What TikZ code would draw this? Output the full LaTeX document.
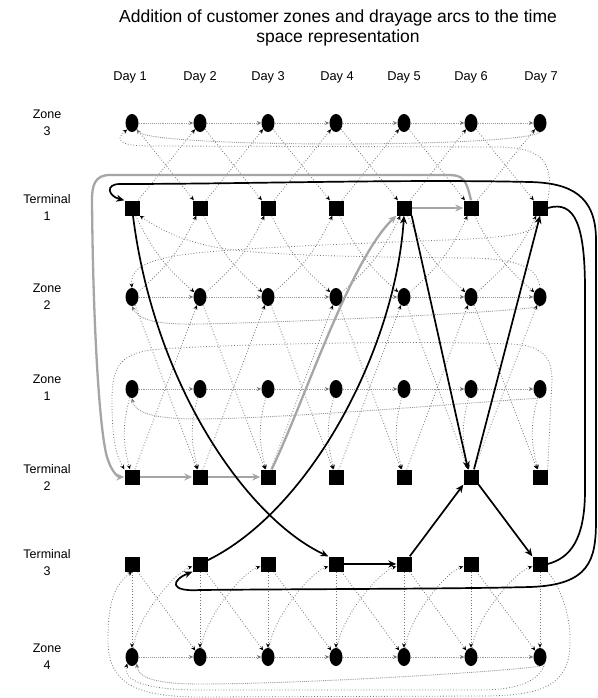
\documentclass[tikz,border=0pt]{standalone}
\usepackage{fontspec}
\setmainfont{Liberation Sans}
\usetikzlibrary{arrows.meta,shapes.geometric,backgrounds}

\begin{document}
\begin{tikzpicture}[x=1pt,y=-1pt,
  zone/.style={ellipse, fill=black, minimum width=13pt, minimum height=18pt, inner sep=0pt},
  term/.style={rectangle, fill=black, minimum size=15pt, inner sep=0pt},
  rowlbl/.style={font=\fontsize{12.5}{17}\selectfont, align=center},
  daylbl/.style={font=\fontsize{12.8}{15}\selectfont},
  darc/.style={draw=black!55, dotted, line width=0.8pt, -{Stealth[length=4.5pt,width=4pt,black]}},
  warc/.style={draw=black!40, densely dotted, line width=0.9pt, -{Stealth[length=4.5pt,width=4pt,black!55]}},
  blk/.style={draw=black, line width=1.7pt, -{Stealth[length=8pt,width=7pt]}},
  gry/.style={draw=black!35, line width=2.3pt, -{Stealth[length=8pt,width=7pt]}}]

\useasboundingbox (0,0) rectangle (597,698);

% title and labels
\node[font=\fontsize{17.5}{19.5}\selectfont, align=center] (title) at (338,28)
  {Addition of customer zones and drayage arcs to the time\\space representation};
\foreach \x [count=\i] in {130,200,268,337,404,471,541}
  \node[daylbl] (day\i) at (\x,77) {Day \i};
\node[rowlbl] (lz3) at (47,123) {Zone\\3};
\node[rowlbl] (lt1) at (47,207) {Terminal\\1};
\node[rowlbl] (lz2) at (47,297) {Zone\\2};
\node[rowlbl] (lz1) at (47,388) {Zone\\1};
\node[rowlbl] (lt2) at (47,477) {Terminal\\2};
\node[rowlbl] (lt3) at (47,563) {Terminal\\3};
\node[rowlbl] (lz4) at (47,657) {Zone\\4};

% customer zones and terminals, one node per day
\foreach \r/\y in {z3/123,z2/297,z1/389,z4/657}
  \foreach \x [count=\i] in {132,200,268,336,404,471,540}
    \node[zone] (\r-\i) at (\x,\y) {};
\foreach \r/\y in {t1/208,t2/477,t3/564}
  \foreach \x [count=\i] in {132,200,268,336,404,471,540}
    \node[term] (\r-\i) at (\x,\y) {};

\begin{scope}[on background layer]
\fill[white] (0,0) rectangle (597,698);

% waiting arcs inside each zone
\foreach \r in {z3,z2,z1,z4}
  \foreach \i in {1,...,6} {
    \pgfmathtruncatemacro\j{\i+1}
    \draw[warc] (\r-\i) -- (\r-\j);
  }

% drayage arcs between consecutive days
\foreach \i in {1,...,6} {
  \pgfmathtruncatemacro\j{\i+1}
  \draw[darc] (z3-\i) -- (t1-\j);
  \draw[darc] (t1-\i) -- (z3-\j);
  \draw[darc] (t1-\i) to[bend right=12] (z2-\j);
  \draw[darc] (z2-\i) to[bend right=12] (t1-\j);
  \draw[darc] (z2-\i) -- (t2-\j);
  \draw[darc] (t2-\i) -- (z2-\j);
  \draw[darc] (t3-\i) -- (z4-\j);
  \draw[darc] (z4-\i) .. controls +(5,-40) and +(-25,8) .. (t3-\j);
}
\foreach \i in {1,...,7} {
  \draw[darc] (z1-\i) to[bend right=15] (t2-\i);
  \draw[darc] (t3-\i) -- (z4-\i);
}

% wrap-around waiting arcs (day 7 back to day 1)
\draw[warc] (z3-7.south) .. controls (520,148) and (150,148) .. (z3-1.south east);
\draw[warc] (z2-7.south) .. controls (520,312) and (300,322) .. (200,324)
  .. controls (150,325) and (138,318) .. (z2-1.south);
\draw[warc] (z1-7.south) .. controls (500,400) and (300,418) .. (200,419)
  .. controls (150,419) and (135,412) .. (z1-1.south);
\draw[warc] (z4-7.south) .. controls (500,672) and (300,684) .. (200,684)
  .. controls (150,684) and (138,676) .. (z4-1.south east);

% wrap-around drayage arcs
\draw[darc] (t1-7.north east) .. controls (555,160) and (540,148) .. (500,147)
  -- (150,146) .. controls (120,146) and (114,140) .. (z3-1.south west);
\draw[darc] (z2-7.north) .. controls (538,268) and (520,259) .. (470,258)
  .. controls (350,257) and (260,255) .. (220,248)
  .. controls (185,242) and (160,230) .. (t1-1.south east);
\draw[darc] (t1-7.south) .. controls (540,232) and (520,236) .. (470,239)
  .. controls (350,244) and (220,248) .. (175,256)
  .. controls (140,262) and (130,272) .. (z2-1.north);
\draw[darc] (t2-7.north east) -- (552,380) .. controls (552,355) and (540,345) .. (510,344)
  .. controls (400,340) and (200,345) .. (150,350)
  .. controls (118,355) and (112,370) .. (112,400)
  .. controls (112,440) and (116,455) .. (t2-1.north west);
\draw[darc] (t3-7.south east) .. controls (570,600) and (573,640) .. (568,660)
  .. controls (560,690) and (530,696) .. (480,696) -- (200,697)
  .. controls (130,697) and (108,680) .. (108,640)
  .. controls (108,600) and (115,585) .. (t3-1.south);
\draw[darc] (z4-7.south east) .. controls (540,680) and (520,690) .. (480,690)
  -- (200,690) .. controls (150,690) and (122,682) .. (z4-1.south west);

% highlighted grey cycle
\draw[gry] (t2-1) -- (t2-2);
\draw[gry] (t2-2) -- (t2-3);
\draw[gry] (t2-3) .. controls (305,400) and (350,260) .. (t1-5.south west);
\draw[gry] (t1-5) -- (t1-6);
\draw[gry] (t1-6.north) .. controls (466,178) and (462,175) .. (448,175) -- (110,175)
  .. controls (95,175) and (92,185) .. (92,200)
  .. controls (93,330) and (100,440) .. (108,460)
  .. controls (112,472) and (118,477) .. (t2-1.west);

% highlighted black cycles
\draw[blk] (t1-1) .. controls (155,390) and (250,520) .. (t3-4.north west);
\draw[blk] (t3-2) .. controls (310,510) and (395,350) .. (t1-5.south);
\draw[blk] (t3-4) -- (t3-5);
\draw[blk] (t3-5) -- (t2-6.south west);
\draw[blk] (t1-5.south east) -- ([xshift=-3pt]t2-6.north);
\draw[blk] ([xshift=3pt]t2-6.north) -- (t1-7.south);
\draw[blk] (t2-6.south east) -- (t3-7.north west);
\draw[draw=black, line width=1.7pt] (t1-7.east) .. controls (575,200) and (585,225) .. (585,290)
  -- (585,490) .. controls (585,540) and (570,558) .. (t3-7.east);
\draw[blk, {Stealth[length=8pt,width=7pt]}-{Stealth[length=8pt,width=7pt]}]
  (t3-2.south west) .. controls (172,580) and (168,592) .. (200,590)
  .. controls (300,589) and (450,589) .. (530,587)
  .. controls (590,585) and (596,560) .. (596,520) -- (596,240)
  .. controls (596,195) and (570,183) .. (530,182)
  .. controls (400,179) and (250,184) .. (120,184)
  .. controls (105,184) and (108,196) .. (t1-1.north west);
\end{scope}
\end{tikzpicture}
\end{document}
